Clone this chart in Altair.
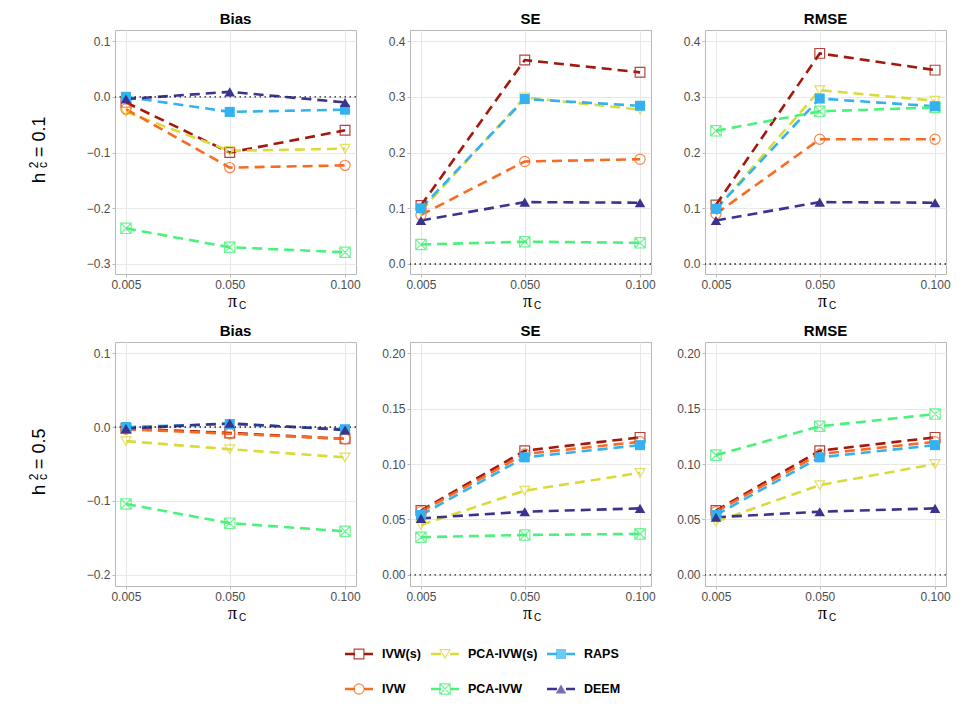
import altair as alt
import pandas as pd

methods = ["IVW(s)", "PCA-IVW(s)", "RAPS", "IVW", "PCA-IVW", "DEEM"]
colors = ["#A3170C", "#DADB3A", "#33B1F0", "#F76B22", "#4BF27A", "#3A348F"]
pi_c = [0.005, 0.05, 0.1]

# h2c = 0.1
bias_01 = {
    "IVW(s)": [-0.010, -0.100, -0.060],
    "PCA-IVW(s)": [-0.027, -0.097, -0.093],
    "RAPS": [0.000, -0.027, -0.023],
    "IVW": [-0.022, -0.127, -0.123],
    "PCA-IVW": [-0.236, -0.270, -0.279],
    "DEEM": [-0.004, 0.009, -0.010],
}
se_01 = {
    "IVW(s)": [0.105, 0.366, 0.344],
    "PCA-IVW(s)": [0.095, 0.299, 0.277],
    "RAPS": [0.100, 0.296, 0.284],
    "IVW": [0.088, 0.184, 0.188],
    "PCA-IVW": [0.035, 0.040, 0.038],
    "DEEM": [0.078, 0.111, 0.110],
}
rmse_01 = {
    "IVW(s)": [0.106, 0.378, 0.348],
    "PCA-IVW(s)": [0.098, 0.312, 0.293],
    "RAPS": [0.099, 0.297, 0.283],
    "IVW": [0.090, 0.224, 0.224],
    "PCA-IVW": [0.239, 0.274, 0.281],
    "DEEM": [0.078, 0.111, 0.110],
}
# h2c = 0.5
bias_05 = {
    "IVW(s)": [-0.002, -0.008, -0.016],
    "PCA-IVW(s)": [-0.019, -0.030, -0.041],
    "RAPS": [0.000, 0.004, -0.003],
    "IVW": [-0.003, -0.009, -0.016],
    "PCA-IVW": [-0.104, -0.130, -0.141],
    "DEEM": [-0.002, 0.005, -0.004],
}
se_05 = {
    "IVW(s)": [0.058, 0.112, 0.124],
    "PCA-IVW(s)": [0.045, 0.076, 0.092],
    "RAPS": [0.054, 0.106, 0.117],
    "IVW": [0.057, 0.109, 0.120],
    "PCA-IVW": [0.034, 0.036, 0.037],
    "DEEM": [0.051, 0.057, 0.060],
}
rmse_05 = {
    "IVW(s)": [0.058, 0.112, 0.124],
    "PCA-IVW(s)": [0.048, 0.081, 0.100],
    "RAPS": [0.054, 0.106, 0.117],
    "IVW": [0.057, 0.109, 0.120],
    "PCA-IVW": [0.108, 0.134, 0.145],
    "DEEM": [0.052, 0.057, 0.060],
}

tables = {
    ("0.1", "Bias"): bias_01, ("0.1", "SE"): se_01, ("0.1", "RMSE"): rmse_01,
    ("0.5", "Bias"): bias_05, ("0.5", "SE"): se_05, ("0.5", "RMSE"): rmse_05,
}
rows = []
for (h, metric), tab in tables.items():
    for m, vals in tab.items():
        for p, v in zip(pi_c, vals):
            rows.append({"h": h, "metric": metric, "method": m, "pi": p, "value": v})
df = pd.DataFrame(rows)

XBOX = "M-1,-1L1,-1L1,1L-1,1Z M-1,-1L1,1 M-1,1L1,-1"
shapes = ["square", "triangle-down", "square", "circle", XBOX, "triangle-up"]
sizes = [95, 110, 90, 95, 95, 130]
open_methods = ["IVW(s)", "PCA-IVW(s)", "IVW", "PCA-IVW"]
filled_methods = ["RAPS", "DEEM"]

FONT = "Liberation Sans"
W, H = 241, 244

color = alt.Color("method:N", scale=alt.Scale(domain=methods, range=colors), legend=None)
shape = alt.Shape("method:N", scale=alt.Scale(domain=methods, range=shapes), legend=None)
size = alt.Size("method:N", scale=alt.Scale(domain=methods, range=sizes), legend=None)


def txt(s, x, y, fs, angle=0, font=FONT, align="center", baseline="alphabetic", weight="normal"):
    return alt.Chart(pd.DataFrame({"t": [s]})).mark_text(
        fontSize=fs, angle=angle, font=font, align=align, baseline=baseline,
        fontWeight=weight, color="black"
    ).encode(x=alt.value(x), y=alt.value(y), text="t:N")


def panel(h, metric, ydom, yticks, yfmt, first_col):
    sub = df[(df.h == h) & (df.metric == metric)]
    X = alt.X("pi:Q", scale=alt.Scale(domain=[0.00025, 0.10475], nice=False, zero=False),
              axis=alt.Axis(values=pi_c, format=".3f", title=None, labelFlush=False))
    Y = alt.Y("value:Q", scale=alt.Scale(domain=ydom, nice=False, zero=False),
              axis=alt.Axis(values=yticks, format=yfmt, title=None))
    base = alt.Chart(sub)
    lines = base.mark_line(strokeDash=[10, 6], strokeWidth=2.6).encode(
        x=X, y=Y, color=color, detail="method:N")
    zero = alt.Chart(pd.DataFrame({"value": [0.0]})).mark_rule(
        color="#222222", strokeDash=[1.5, 3.5], strokeWidth=1.4).encode(y=Y)
    pts_open = base.transform_filter(
        alt.FieldOneOfPredicate(field="method", oneOf=open_methods)
    ).mark_point(filled=False, strokeWidth=1.2, opacity=0.8).encode(
        x=X, y=Y, color=color, shape=shape, size=size)
    pts_fill = base.transform_filter(
        alt.FieldOneOfPredicate(field="method", oneOf=filled_methods)
    ).mark_point(filled=True, opacity=1).encode(
        x=X, y=Y, color=color, shape=shape, size=size)
    layers = [lines, zero, pts_open, pts_fill,
              txt("π", W / 2 - 3, H + 33, 18, font="Liberation Serif"),
              txt("C", W / 2 + 7, H + 35, 10)]
    if first_col:
        layers += [
            txt("h", -70, 148, 19, angle=270),
            txt("2", -77, 135, 12, angle=270),
            txt("c", -68, 135, 12, angle=270),
            txt("= " + h, -70, 127, 18, angle=270, align="left"),
        ]
    return alt.layer(*layers).properties(
        width=W, height=H,
        title=alt.TitleParams(metric, fontSize=15, fontWeight="bold", font=FONT,
                              color="black", offset=3)
    )


r1 = [0.1, 0.0, -0.1, -0.2, -0.3]
r1s = [0.0, 0.1, 0.2, 0.3, 0.4]
r2 = [0.1, 0.0, -0.1, -0.2]
r2s = [0.0, 0.05, 0.10, 0.15, 0.20]

panels = [
    panel("0.1", "Bias", [-0.318, 0.12], r1, ".1f", True),
    panel("0.1", "SE", [-0.018, 0.42], r1s, ".1f", False),
    panel("0.1", "RMSE", [-0.018, 0.42], r1s, ".1f", False),
    panel("0.5", "Bias", [-0.215, 0.115], r2, ".1f", True),
    panel("0.5", "SE", [-0.01, 0.21], r2s, ".2f", False),
    panel("0.5", "RMSE", [-0.01, 0.21], r2s, ".2f", False),
]

grid = alt.concat(*panels, columns=3, spacing={"row": 68, "column": 54},
                  bounds="flush").resolve_scale(x="independent", y="independent")

# legend built from the same method lists
leg_cols = [["IVW(s)", "IVW"], ["PCA-IVW(s)", "PCA-IVW"], ["RAPS", "DEEM"]]


def legend_col(ms):
    d = pd.DataFrame({"method": ms, "row": [0, 1]})
    Yl = alt.Y("row:O", axis=None, scale=alt.Scale(type="point", padding=0))
    b = alt.Chart(d)
    seg = b.transform_calculate(ends="[0, 1]").transform_flatten(["ends"])
    rule = seg.mark_line(strokeDash=[10, 9], strokeWidth=2.6).encode(
        x=alt.X("ends:Q", axis=None, scale=alt.Scale(domain=[0, 1], range=[0, 28])),
        y=Yl, color=color, detail="method:N")
    po = b.transform_filter(alt.FieldOneOfPredicate(field="method", oneOf=open_methods)).mark_point(
        filled=False, strokeWidth=1.2, opacity=0.8).encode(
        x=alt.value(14), y=Yl, color=color, shape=shape, size=size)
    pf = b.transform_filter(alt.FieldOneOfPredicate(field="method", oneOf=filled_methods)).mark_point(
        filled=True).encode(x=alt.value(14), y=Yl, color=color, shape=shape, size=size)
    tx = b.mark_text(align="left", baseline="middle", fontSize=12.5, fontWeight="bold",
                     font=FONT, color="black").encode(x=alt.value(37), y=Yl, text="method:N")
    return alt.layer(rule, po, pf, tx).properties(
        width=28, height=35, view=alt.ViewBackground(stroke="transparent"))


spacer = alt.Chart(pd.DataFrame({"a": [0]})).mark_point(opacity=0).encode(
    x=alt.value(0), y=alt.value(0)).properties(
    width=220, height=35, view=alt.ViewBackground(stroke="transparent"))

legend = alt.hconcat(spacer, *[legend_col(c) for c in leg_cols], spacing=3)

chart = alt.vconcat(grid, legend, spacing=22).properties(
    padding={"left": 19, "top": 3, "right": 0, "bottom": 5}
).configure_view(stroke="#b8b8b8", strokeWidth=1).configure_axis(
    labelColor="#4d4d4d", labelFontSize=12, labelFont=FONT, tickColor="#b8b8b8",
    tickSize=3, gridColor="#e8e8e8", domain=False, labelPadding=2
).configure_concat(spacing=10)

chart.save("out.html", embed_options={"renderer": "svg", "actions": False})
